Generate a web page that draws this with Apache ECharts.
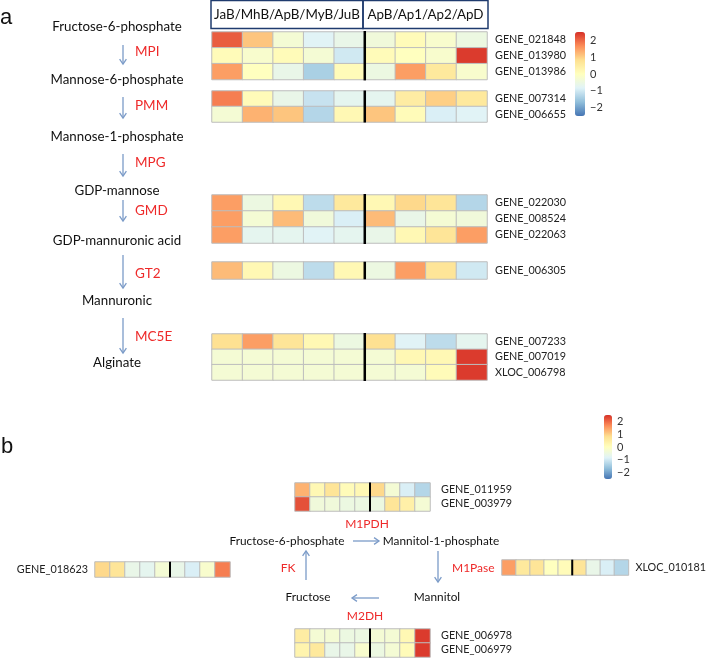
<!DOCTYPE html>
<html>
<head>
<meta charset="utf-8">
<script src="https://cdn.jsdelivr.net/npm/echarts@6/dist/echarts.min.js"></script>
<style>
html,body{margin:0;padding:0;background:#fff;}
#chart{width:709px;height:669px;}
</style>
</head>
<body>
<div id="chart"></div>
<script>
// ---------- data ----------
const groupSampling = ['JaB','MhB','ApB','MyB','JuB'];
const groupApril = ['ApB','Ap1','Ap2','ApD'];
const colorbarTicks = [-2, -1, 0, 1, 2];
const palette = ['#4575b4','#91bfdb','#e0f3f8','#ffffbf','#fee090','#fc8d59','#d73027'];

// panel a
const mpiGenes = ['GENE_021848','GENE_013980','GENE_013986'];
const mpiValues = [
  [2.1, 1.1, -0.3, -0.8, -0.6, -0.4, 0.1, -0.2, -0.5],
  [0.1, -0.2, 0.1, -0.3, -1.0, 0.1, 0.0, -0.2, 2.4],
  [1.5, 0.0, -0.6, -1.4, 0.1, -0.5, 1.5, 0.6, -0.2]
];
const pmmGenes = ['GENE_007314','GENE_006655'];
const pmmValues = [
  [1.8, 0.1, -0.6, -1.1, -0.7, -0.7, 0.5, 1.0, 0.6],
  [-0.3, 1.3, 1.1, -1.3, 0.2, 1.1, 0.1, -0.9, -0.8]
];
const gmdGenes = ['GENE_022030','GENE_008524','GENE_022063'];
const gmdValues = [
  [1.5, -0.5, 0.2, -1.2, 0.6, 0.2, 0.9, 0.7, -1.3],
  [1.5, -0.3, 1.2, -0.4, -0.9, 1.2, -0.6, -0.3, -0.4],
  [1.5, -0.7, -0.7, -0.8, -0.7, -0.6, 0.2, 0.7, 1.5]
];
const gt2Genes = ['GENE_006305'];
const gt2Values = [
  [1.2, 0.2, -0.5, -1.2, 0.2, -0.5, 1.5, 0.7, -1.0]
];
const mc5eGenes = ['GENE_007233','GENE_007019','XLOC_006798'];
const mc5eValues = [
  [0.8, 1.5, 0.7, 0.2, -0.5, 0.8, -0.8, -1.2, -0.7],
  [-0.3, -0.3, -0.3, -0.3, -0.3, -0.3, 0.2, 0.2, 2.4],
  [-0.3, -0.3, -0.3, -0.3, -0.3, -0.3, -0.3, 0.1, 2.4]
];

// panel b
const m1pdhGenes = ['GENE_011959','GENE_003979'];
const m1pdhValues = [
  [1.3, 0.2, 0.7, 0.1, 0.2, 0.9, -0.3, -0.9, -1.3],
  [2.2, -0.4, -0.4, -0.5, -0.5, -0.5, 0.7, 0.4, -0.3]
];
const fkGenes = ['GENE_018623'];
const fkValues = [
  [0.9, 0.7, -0.6, -0.7, -0.3, -0.6, -0.9, -0.2, 1.8]
];
const m1paseGenes = ['XLOC_010181'];
const m1paseValues = [
  [1.5, 0.6, 0.7, 0.0, 0.1, 0.7, -0.6, -0.9, -1.3]
];
const m2dhGenes = ['GENE_006978','GENE_006979'];
const m2dhValues = [
  [0.5, -0.3, -0.3, -0.5, -0.5, -0.3, -0.3, 0.2, 2.4],
  [0.3, 0.6, -0.6, -0.6, -0.2, -0.5, -0.3, 0.1, 2.4]
];

// pathway texts
const pathwayA = ['Fructose-6-phosphate','Mannose-6-phosphate','Mannose-1-phosphate','GDP-mannose','GDP-mannuronic acid','Mannuronic','Alginate'];
const enzymesA = ['MPI','PMM','MPG','GMD','GT2','MC5E'];

// ---------- build ----------
const FONT = 'Lato, "Open Sans", sans-serif';
const columns = groupSampling.concat(groupApril).map((c, i) => String(i));
const grids = [], xAxes = [], yAxes = [], series = [];
const seriesA = [], seriesB = [];

function addBlock(box, genes, values, side, margin, divWidth, target) {
  const g = grids.length;
  grids.push({left: box.l, top: box.t, width: box.w, height: box.h});
  const xc = xAxes.length;
  xAxes.push({type: 'category', gridIndex: g, data: columns, show: false});
  xAxes.push({type: 'value', gridIndex: g, min: 0, max: columns.length, show: false});
  const yc = yAxes.length;
  yAxes.push({
    type: 'category', gridIndex: g, data: genes, inverse: true, position: side,
    axisLine: {show: false}, axisTick: {show: false}, splitLine: {show: false},
    axisLabel: {fontFamily: FONT, fontSize: 10.8, color: '#222', margin: margin, interval: 0, hideOverlap: false}
  });
  yAxes.push({type: 'value', gridIndex: g, min: 0, max: 1, show: false});
  const data = [];
  values.forEach((row, r) => row.forEach((v, c) => data.push([c, r, v])));
  target.push(series.length);
  series.push({
    type: 'heatmap', xAxisIndex: xc, yAxisIndex: yc, data: data,
    itemStyle: {borderColor: '#bdbdbd', borderWidth: 1},
    emphasis: {disabled: true}, silent: true
  });
  series.push({
    type: 'line', xAxisIndex: xc + 1, yAxisIndex: yc + 1,
    data: [[groupSampling.length, -0.02], [groupSampling.length, 1.02]],
    symbol: 'none', lineStyle: {color: '#000', width: divWidth}, z: 5, silent: true
  });
}

addBlock({l: 212, t: 32, w: 275, h: 47.5}, mpiGenes, mpiValues, 'right', 8, 2.5, seriesA);
addBlock({l: 212, t: 91, w: 275, h: 31}, pmmGenes, pmmValues, 'right', 8, 2.5, seriesA);
addBlock({l: 212, t: 195, w: 275, h: 48}, gmdGenes, gmdValues, 'right', 8, 2.5, seriesA);
addBlock({l: 212, t: 262, w: 275, h: 17}, gt2Genes, gt2Values, 'right', 8, 2.5, seriesA);
addBlock({l: 212, t: 334, w: 275, h: 46}, mc5eGenes, mc5eValues, 'right', 8, 2.5, seriesA);

addBlock({l: 295, t: 483, w: 135, h: 28}, m1pdhGenes, m1pdhValues, 'right', 11, 2, seriesB);
addBlock({l: 95, t: 562, w: 135, h: 15}, fkGenes, fkValues, 'left', 7, 2, seriesB);
addBlock({l: 502, t: 560, w: 139, h: 15}, m1paseGenes, m1paseValues, 'right', 7, 2, seriesB);
addBlock({l: 295, t: 629, w: 135, h: 28}, m2dhGenes, m2dhValues, 'right', 11, 2, seriesB);

// colorbar axes
function addColorbarAxis(box) {
  const g = grids.length;
  grids.push({left: box.l, top: box.t, width: box.w, height: box.h});
  xAxes.push({type: 'value', gridIndex: g, show: false});
  yAxes.push({
    type: 'value', gridIndex: g, min: -2.5, max: 2.5, position: 'right',
    axisLine: {show: false}, axisTick: {show: false}, splitLine: {show: false},
    axisLabel: {
      customValues: colorbarTicks, margin: 5, fontFamily: FONT, fontSize: 11, color: '#333',
      formatter: v => String(v).replace('-', '\u2212')
    }
  });
}
addColorbarAxis({l: 575, t: 32, w: 10, h: 84});
addColorbarAxis({l: 604, t: 415, w: 8, h: 64});

// graphics
const graphic = [];
function txt(s, x, y, opt) {
  opt = opt || {};
  graphic.push({
    type: 'text', x: x, y: y, silent: true,
    style: {
      text: s, fill: opt.fill || '#111',
      font: (opt.weight || 'normal') + ' ' + (opt.size || 14) + 'px ' + (opt.family || FONT),
      textAlign: opt.align || 'center', textVerticalAlign: 'middle', verticalAlign: 'middle'
    }
  });
}
function arrow(x1, y1, x2, y2) {
  const ang = Math.atan2(y2 - y1, x2 - x1);
  const L = 6, W = 0.6;
  const color = '#7b9bc8';
  graphic.push({type: 'line', silent: true, shape: {x1: x1, y1: y1, x2: x2, y2: y2}, style: {stroke: color, lineWidth: 1.3}});
  graphic.push({type: 'polyline', silent: true, shape: {points: [
    [x2 - L * Math.cos(ang - W), y2 - L * Math.sin(ang - W)],
    [x2, y2],
    [x2 - L * Math.cos(ang + W), y2 - L * Math.sin(ang + W)]
  ]}, style: {stroke: color, lineWidth: 1.3, fill: null}});
}

// panel labels
txt('a', 0, 18, {align: 'left', size: 22, family: '"Liberation Sans", Arial, sans-serif'});
txt('b', 1, 447, {align: 'left', size: 22, family: '"Liberation Sans", Arial, sans-serif'});

// header boxes
graphic.push({type: 'rect', silent: true, shape: {x: 211, y: 0.5, width: 152, height: 28}, style: {fill: null, stroke: '#1f3b6e', lineWidth: 1.5}});
graphic.push({type: 'rect', silent: true, shape: {x: 363, y: 0.5, width: 125, height: 28}, style: {fill: null, stroke: '#1f3b6e', lineWidth: 1.5}});
txt(groupSampling.join('/'), 287, 15, {size: 13.4});
txt(groupApril.join('/'), 425.5, 15, {size: 13.4});

// panel a pathway
const metY = [27, 80, 137, 191, 241, 301, 363];
const enzY = [52, 106, 163, 211, 274, 337];
const arrY = [[45, 64], [97, 118], [154, 176], [200, 221], [255, 288], [318, 353]];
pathwayA.forEach((s, i) => txt(s, 117, metY[i], {size: 13.3}));
enzymesA.forEach((s, i) => txt(s, 135, enzY[i], {size: 13.5, align: 'left', fill: '#ee2a2a'}));
arrY.forEach(a => arrow(123, a[0], 123, a[1]));

// panel b pathway
txt('Fructose-6-phosphate', 287, 541, {size: 11.8});
txt('Mannitol-1-phosphate', 441, 541, {size: 11.8});
txt('Fructose', 308, 597, {size: 11.8});
txt('Mannitol', 437, 597, {size: 11.8});
txt('M1PDH', 367, 524, {size: 12, fill: '#ee2a2a'});
txt('FK', 288, 568, {size: 12, fill: '#ee2a2a'});
txt('M1Pase', 452, 568, {size: 12, align: 'left', fill: '#ee2a2a'});
txt('M2DH', 365, 616, {size: 12, fill: '#ee2a2a'});
arrow(353, 541, 379, 541);
arrow(438, 551, 438, 582);
arrow(379, 598, 352, 598);
arrow(306, 580, 306, 551);

const chart = echarts.init(document.getElementById('chart'), null, {renderer: 'canvas'});
chart.setOption({
  animation: false,
  backgroundColor: '#fff',
  grid: grids,
  xAxis: xAxes,
  yAxis: yAxes,
  visualMap: [
    {type: 'continuous', min: -2.5, max: 2.5, seriesIndex: seriesA, calculable: false, hoverLink: false,
     left: 575, top: 32, itemWidth: 10, itemHeight: 84, padding: 0, inRange: {color: palette}},
    {type: 'continuous', min: -2.5, max: 2.5, seriesIndex: seriesB, calculable: false, hoverLink: false,
     left: 604, top: 415, itemWidth: 8, itemHeight: 64, padding: 0, inRange: {color: palette}}
  ],
  graphic: graphic,
  series: series
});
</script>
</body>
</html>
